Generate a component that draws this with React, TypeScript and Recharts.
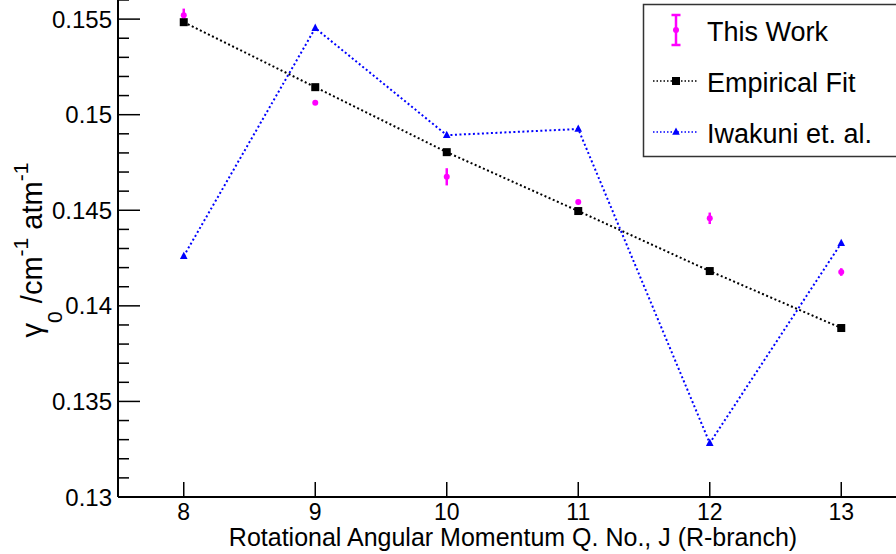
import React from 'react';
import { ComposedChart, Line, XAxis, YAxis, ErrorBar, Label } from 'recharts';

const jValues = [8, 9, 10, 11, 12, 13];
const thisWork = [0.1552, 0.15062, 0.14675, 0.14543, 0.14458, 0.14177];
const thisWorkErr = [0.00035, 0.0001, 0.00045, 0.00006, 0.0003, 0.0002];
const empiricalFit = [0.15484, 0.15144, 0.14804, 0.14496, 0.14182, 0.13884];
const iwakuni = [0.1426, 0.15453, 0.14893, 0.14925, 0.13282, 0.14328];

const xTicks = [8, 9, 10, 11, 12, 13];
const yTicks = [
  0.13, 0.131, 0.132, 0.133, 0.134, 0.135, 0.136, 0.137, 0.138, 0.139,
  0.14, 0.141, 0.142, 0.143, 0.144, 0.145, 0.146, 0.147, 0.148, 0.149,
  0.15, 0.151, 0.152, 0.153, 0.154, 0.155, 0.156,
];
const yMajorTicks = [0.13, 0.135, 0.14, 0.145, 0.15, 0.155];
const yTickLabels = ['0.13', '0.135', '0.14', '0.145', '0.15', '0.155'];

const seriesNames = ['This Work', 'Empirical Fit', 'Iwakuni et. al.'];
const xTitle = 'Rotational Angular Momentum Q. No., J (R-branch)';

const FONT = '"Liberation Sans", Arial, Helvetica, sans-serif';
const MAGENTA = '#ff00ff';
const BLUE = '#0000ff';

const data = jValues.map((j, i) => ({
  j,
  work: thisWork[i],
  workErr: thisWorkErr[i],
  fit: empiricalFit[i],
  iwakuni: iwakuni[i],
}));

function majorLabel(v: number): string | null {
  for (let i = 0; i < yMajorTicks.length; i++) {
    if (Math.abs(yMajorTicks[i] - v) < 1e-7) return yTickLabels[i];
  }
  return null;
}

const YTick = (props: any) => {
  const { x, y, payload } = props;
  const label = majorLabel(payload.value);
  const len = label ? 22 : 11;
  return (
    <g>
      <line x1={x} x2={x + len} y1={y} y2={y} stroke="#000" strokeWidth={1.5} />
      {label && (
        <text x={x - 6} y={y} dy={8.5} textAnchor="end" fontSize={24} fontFamily={FONT} fill="#000">
          {label}
        </text>
      )}
    </g>
  );
};

const XTick = (props: any) => {
  const { x, y, payload } = props;
  return (
    <g>
      <line x1={x} x2={x} y1={y} y2={y - 15} stroke="#000" strokeWidth={1.5} />
      <text x={x} y={y + 23} textAnchor="middle" fontSize={23} fontFamily={FONT} fill="#000">
        {payload.value}
      </text>
    </g>
  );
};

const SquareDot = (props: any) => {
  const { cx, cy, index } = props;
  if (cx == null || cy == null) return <g key={index} />;
  return <rect key={index} x={cx - 4} y={cy - 4} width={8} height={8} fill="#000" />;
};

const TriangleDot = (props: any) => {
  const { cx, cy, index } = props;
  if (cx == null || cy == null) return <g key={index} />;
  return (
    <polygon
      key={index}
      points={`${cx},${cy - 4.5} ${cx - 3.8},${cy + 2.8} ${cx + 3.8},${cy + 2.8}`}
      fill={BLUE}
    />
  );
};

const CircleDot = (props: any) => {
  const { cx, cy, index } = props;
  if (cx == null || cy == null) return <g key={index} />;
  return <circle key={index} cx={cx} cy={cy} r={3} fill={MAGENTA} />;
};

const YTitle = () => (
  <text
    transform="translate(42,250) rotate(-90)"
    textAnchor="middle"
    fontSize={29}
    fontFamily={FONT}
    fill="#000"
  >
    γ
    <tspan dy={20} fontSize={21}>0</tspan>
    <tspan dy={-20}>{' /cm'}</tspan>
    <tspan dy={-14} fontSize={21}>-1</tspan>
    <tspan dy={14}>{' atm'}</tspan>
    <tspan dy={-14} fontSize={21}>-1</tspan>
  </text>
);

const XTitle = () => (
  <text x={513} y={546} textAnchor="middle" fontSize={25} fontFamily={FONT} fill="#000">
    {xTitle}
  </text>
);

const LegendBox = () => (
  <svg
    width={896}
    height={554}
    style={{ position: 'absolute', left: 0, top: 0, pointerEvents: 'none' }}
  >
    <rect x={643.5} y={4.5} width={270} height={152} fill="#fff" stroke="#333" strokeWidth={1.5} />
    <line x1={676} x2={676} y1={15} y2={45} stroke={MAGENTA} strokeWidth={2.5} />
    <line x1={671.5} x2={680.5} y1={15} y2={15} stroke={MAGENTA} strokeWidth={2.5} />
    <line x1={671.5} x2={680.5} y1={45} y2={45} stroke={MAGENTA} strokeWidth={2.5} />
    <circle cx={676} cy={30} r={3} fill={MAGENTA} />
    <text x={707} y={41} fontSize={27} fontFamily={FONT} fill="#000">{seriesNames[0]}</text>
    <line x1={653} x2={698} y1={81} y2={81} stroke="#000" strokeWidth={1.5} strokeDasharray="1.5 2" />
    <rect x={672} y={77} width={8} height={8} fill="#000" />
    <text x={707} y={92} fontSize={27} fontFamily={FONT} fill="#000">{seriesNames[1]}</text>
    <line x1={653} x2={698} y1={132} y2={132} stroke={BLUE} strokeWidth={1.5} strokeDasharray="1.5 2" />
    <polygon points="676,127.5 672.2,134.8 679.8,134.8" fill={BLUE} />
    <text x={707} y={143} fontSize={27} fontFamily={FONT} fill="#000">{seriesNames[2]}</text>
  </svg>
);

export default function App() {
  return (
    <div
      style={{
        position: 'absolute',
        left: 0,
        top: 0,
        width: 896,
        height: 554,
        overflow: 'hidden',
        background: '#fff',
      }}
    >
      <ComposedChart
        width={907}
        height={554}
        data={data}
        margin={{ top: 0, right: 0, bottom: 0, left: 0 }}
      >
        <XAxis
          dataKey="j"
          type="number"
          domain={[7.5, 13.5]}
          ticks={xTicks}
          interval={0}
          allowDataOverflow
          height={57}
          tickSize={0}
          tickMargin={0}
          tick={<XTick />}
          axisLine={{ stroke: '#000', strokeWidth: 2 }}
          tickLine={false}
        >
          <Label content={<XTitle />} />
        </XAxis>
        <YAxis
          type="number"
          domain={[0.13, 0.156]}
          ticks={yTicks}
          interval={0}
          allowDataOverflow
          width={118}
          tickSize={0}
          tickMargin={0}
          tick={<YTick />}
          axisLine={{ stroke: '#000', strokeWidth: 2 }}
          tickLine={false}
        >
          <Label content={<YTitle />} />
        </YAxis>
        <Line
          dataKey="fit"
          type="linear"
          stroke="#000"
          strokeWidth={2}
          strokeDasharray="2 2.5"
          dot={<SquareDot />}
          activeDot={false}
          isAnimationActive={false}
        />
        <Line
          dataKey="iwakuni"
          type="linear"
          stroke={BLUE}
          strokeWidth={2}
          strokeDasharray="2 2.5"
          dot={<TriangleDot />}
          activeDot={false}
          isAnimationActive={false}
        />
        <Line
          dataKey="work"
          type="linear"
          stroke="none"
          dot={<CircleDot />}
          activeDot={false}
          isAnimationActive={false}
        >
          <ErrorBar dataKey="workErr" direction="y" width={0} stroke={MAGENTA} strokeWidth={2.5} />
        </Line>
      </ComposedChart>
      <LegendBox />
    </div>
  );
}
